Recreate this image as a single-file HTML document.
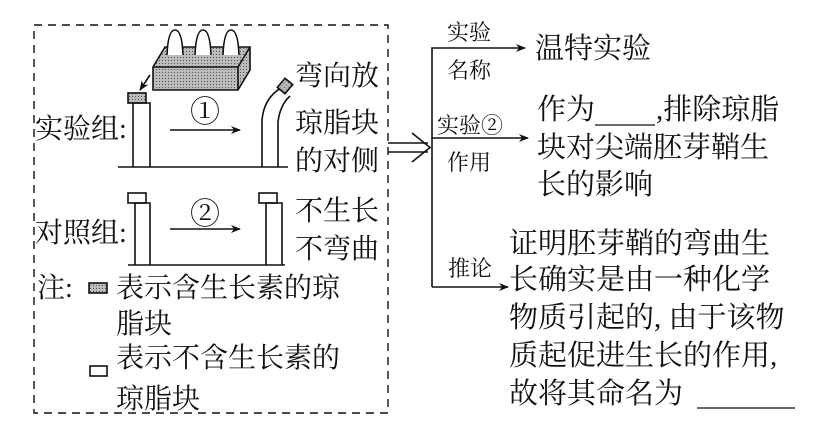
<!DOCTYPE html>
<html><head><meta charset="utf-8"><style>
body{margin:0;background:#fff}
svg text{font-family:"Liberation Serif","Noto Serif CJK SC","Noto Sans CJK SC",serif;fill:#111}
</style></head><body>
<svg width="816" height="429" viewBox="0 0 816 429" xmlns="http://www.w3.org/2000/svg">
<defs>
<pattern id="dots" width="3" height="3" patternUnits="userSpaceOnUse"><rect width="3" height="3" fill="#bbb"/><rect width="1" height="1" fill="#555"/></pattern>
<marker id="ah" markerWidth="10" markerHeight="8" refX="9" refY="4" orient="auto" markerUnits="userSpaceOnUse"><path d="M0,0 L10,4 L0,8 L3,4z" fill="#111"/></marker>
</defs>
<g stroke="#111" fill="none" stroke-width="1.6">
<rect x="34" y="25" width="354" height="388" stroke-dasharray="8,6" stroke-width="1.4"/>
<path d="M153,67 L165,47 L250,47 L250,70 L238,90 L153,90 Z" fill="url(#dots)"/>
<path d="M153,67 L238,67 L250,47 M238,67 L238,90"/>
<path d="M167,55 Q168,30 175,30 Q182,30 183,55 M195,55 Q196,30 203,30 Q210,30 211,55 M223,55 Q224,30 231,30 Q238,30 239,55" fill="#fff"/>
<path d="M150,75 L140,90" marker-end="url(#ah)"/>
<rect x="128" y="93" width="18" height="10" fill="url(#dots)"/>
<path d="M133,167 L133,103 L150,103 L150,167"/>
<path d="M118,167 L288,167"/>
<path d="M170,130 L240,130" marker-end="url(#ah)"/>
<path d="M262,167 L262,120 Q264,98 281,88 M278,167 L278,122 Q280,105 290,96"/>
<rect x="280" y="80" width="10" height="12" transform="rotate(40 285 86)" fill="url(#dots)"/>
<rect x="128" y="193" width="18" height="10" fill="#fff"/>
<path d="M135,265 L135,203 L150,203 L150,265"/>
<path d="M128,265 L285,265"/>
<path d="M170,229 L240,229" marker-end="url(#ah)"/>
<rect x="259" y="193" width="18" height="10" fill="#fff"/>
<path d="M266,265 L266,203 L282,203 L282,265"/>
<rect x="89" y="283" width="18" height="10" fill="url(#dots)"/>
<rect x="90" y="366" width="17" height="10" fill="#fff"/>
<path d="M388,143 L428,143 M388,152 L428,152 M412,133 L430,147.5 L412,162"/>
<path d="M432,287 L432,48 L525,48" marker-end="url(#ah)"/>
<path d="M432,138 L528,138" marker-end="url(#ah)"/>
<path d="M432,287 L508,287" marker-end="url(#ah)"/>
<path d="M595,125 L655,125 M697,408 L795,408" stroke-width="1.3"/>
</g>
<g font-size="28">
<text x="35" y="138">实验组:</text>
<text x="35" y="242">对照组:</text>
<text x="295" y="85">弯向放</text>
<text x="295" y="132">琼脂块</text>
<text x="295" y="170">的对侧</text>
<text x="295" y="220">不生长</text>
<text x="295" y="258">不弯曲</text>
<text x="37" y="297">注:</text>
<text x="116" y="297">表示含生长素的琼</text>
<text x="116" y="333">脂块</text>
<text x="116" y="367">表示不含生长素的</text>
<text x="116" y="408">琼脂块</text>
</g>
<g font-size="30">
<text x="190" y="122">①</text>
<text x="190" y="224">②</text>
</g>
<g font-size="22">
<text x="447" y="40">实验</text>
<text x="447" y="78">名称</text>
<text x="437" y="133">实验②</text>
<text x="447" y="170">作用</text>
<text x="448" y="276">推论</text>
</g>
<g font-size="29">
<text x="535" y="58">温特实验</text>
<text x="537" y="119">作为</text>
<text x="656" y="119">,排除琼脂</text>
<text x="537" y="157">块对尖端胚芽鞘生</text>
<text x="537" y="194">长的影响</text>
<text x="509" y="253">证明胚芽鞘的弯曲生</text>
<text x="509" y="289">长确实是由一种化学</text>
<text x="509" y="327">物质引起的, 由于该物</text>
<text x="509" y="365">质起促进生长的作用,</text>
<text x="509" y="403">故将其命名为</text>
</g>
</svg>
</body></html>
